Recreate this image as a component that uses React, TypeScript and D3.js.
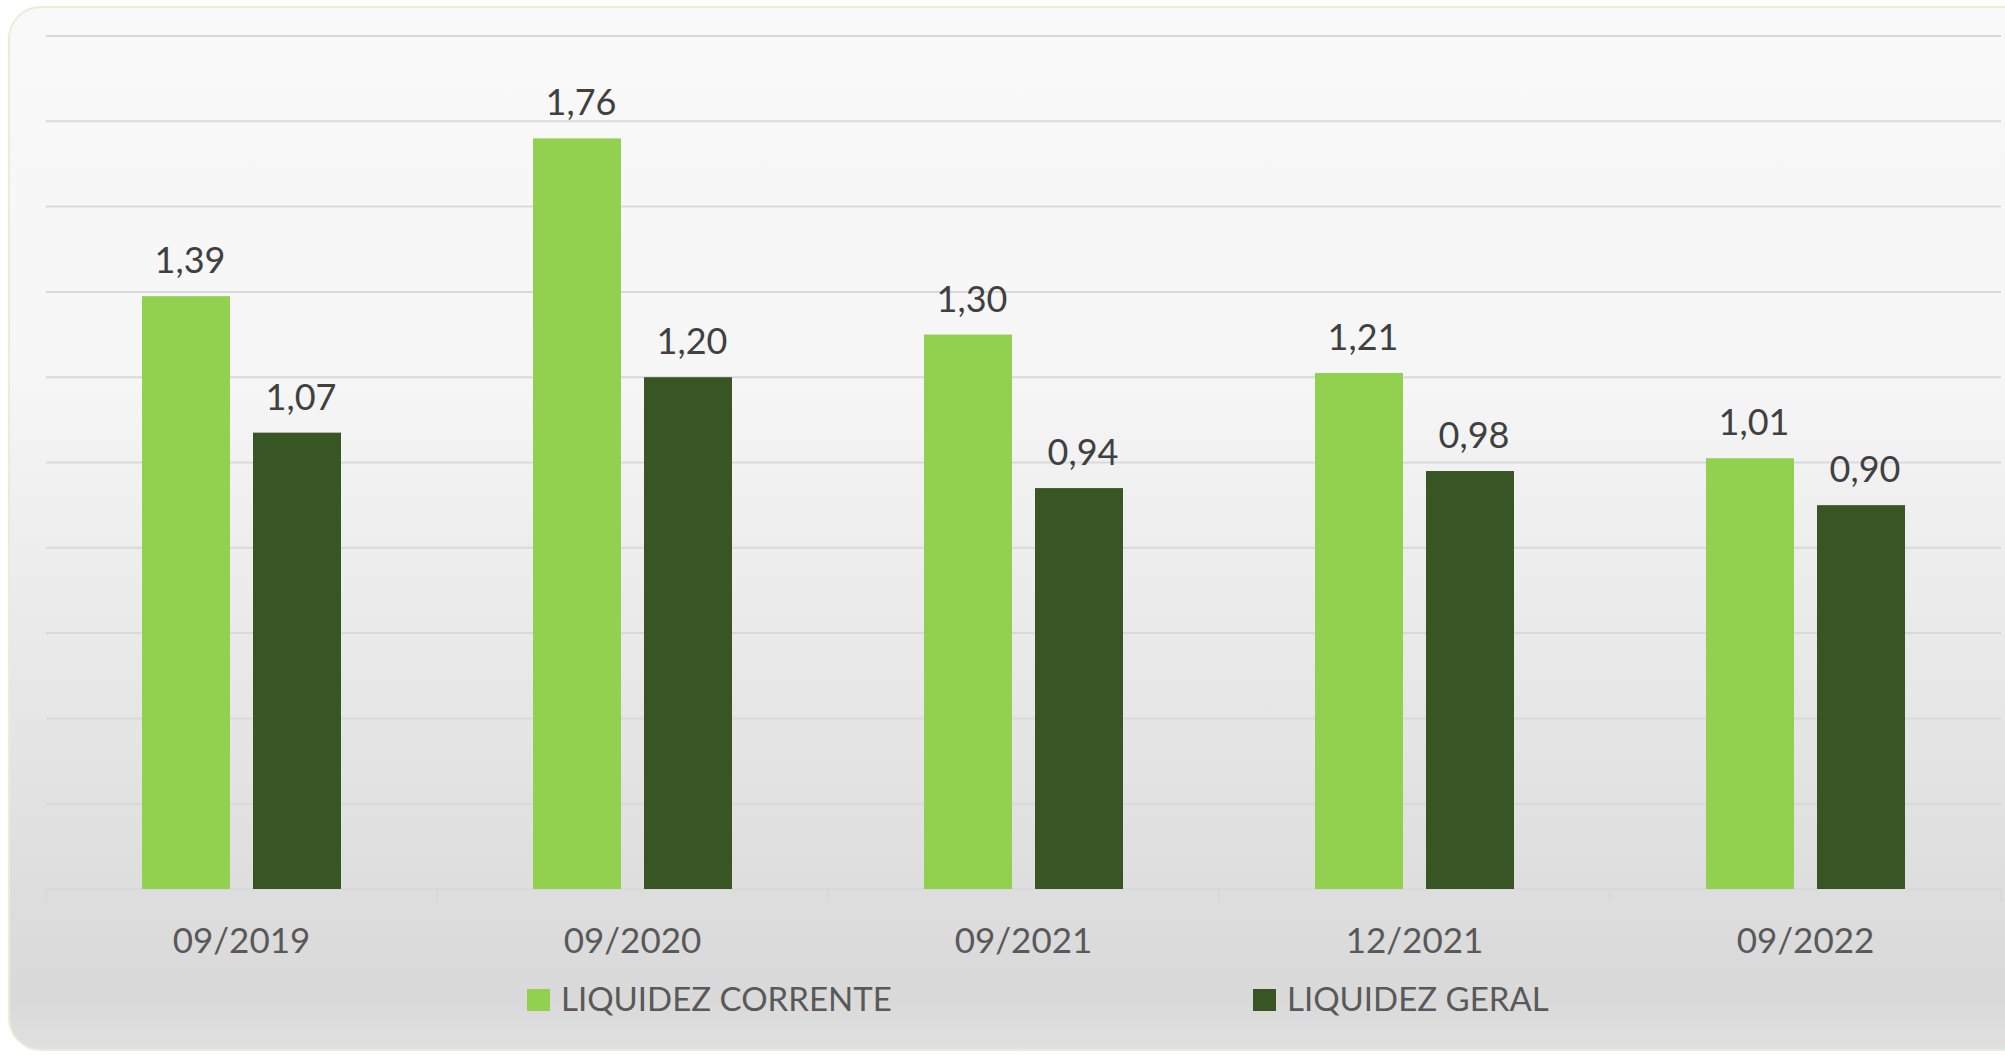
import React from "react"
import * as d3 from "d3"

// Data
const categories = ["09/2019", "09/2020", "09/2021", "12/2021", "09/2022"]
const seriesNames = ["LIQUIDEZ CORRENTE", "LIQUIDEZ GERAL"]
const liquidezCorrente = [1.39, 1.76, 1.3, 1.21, 1.01]
const liquidezGeral = [1.07, 1.2, 0.94, 0.98, 0.9]
const seriesColors = ["#92d050", "#375623"]

const fmt = (v: number) => v.toFixed(2).replace(".", ",")

export default function App() {
  const totalW = 2005
  const totalH = 1055
  const plot = { left: 46, right: 2001, top: 36, bottom: 889 }

  const xScale = d3
    .scaleBand<string>()
    .domain(categories)
    .range([plot.left, plot.right])
  const inner = d3
    .scaleBand<string>()
    .domain(seriesNames)
    .range([96, 295])
    .paddingInner(23 / 111)
  const yScale = d3.scaleLinear().domain([0, 2]).range([plot.bottom, plot.top])
  const gridTicks = yScale.ticks(10)
  const values = [liquidezCorrente, liquidezGeral]

  const font = "Lato, 'Noto Sans', sans-serif"

  return (
    <svg
      width={totalW}
      height={totalH}
      style={{ position: "absolute", left: 0, top: 0 }}
    >
      <defs>
        <linearGradient id="bg" x1="0" y1="0" x2="0" y2="1">
          <stop offset="0" stopColor="#f9f9f9" />
          <stop offset="0.35" stopColor="#f6f6f6" />
          <stop offset="0.86" stopColor="#dddddd" />
          <stop offset="0.95" stopColor="#d9d9d9" />
          <stop offset="1" stopColor="#e0e0e0" />
        </linearGradient>
      </defs>
      <rect x={0} y={0} width={totalW} height={totalH} fill="#ffffff" />
      <rect
        x={9}
        y={7}
        width={2040}
        height={1043}
        rx={32}
        fill="url(#bg)"
        stroke="#e3f0da"
        strokeWidth={2}
      />

      {/* Gridlines */}
      {gridTicks.map((t) => (
        <line
          key={`grid-${t}`}
          x1={plot.left}
          x2={plot.right}
          y1={yScale(t)}
          y2={yScale(t)}
          stroke="#d9d9d9"
          strokeWidth={2}
        />
      ))}

      {/* Category axis ticks */}
      {categories.concat([""]).map((c, i) => {
        const x = plot.left + i * xScale.step()
        return (
          <line
            key={`tick-${i}`}
            x1={x}
            x2={x}
            y1={plot.bottom}
            y2={plot.bottom + 13}
            stroke="#d6d6d6"
            strokeWidth={1.5}
          />
        )
      })}

      {/* Bars */}
      {categories.map((c, i) =>
        seriesNames.map((s, j) => {
          const v = values[j][i]
          const x = (xScale(c) as number) + (inner(s) as number)
          return (
            <rect
              key={`${c}-${s}`}
              x={x}
              y={yScale(v)}
              width={inner.bandwidth()}
              height={plot.bottom - yScale(v)}
              fill={seriesColors[j]}
            />
          )
        })
      )}

      {/* Value labels */}
      {categories.map((c, i) =>
        seriesNames.map((s, j) => {
          const v = values[j][i]
          const x =
            (xScale(c) as number) + (inner(s) as number) + inner.bandwidth() / 2
          return (
            <text
              key={`${c}-${s}-label`}
              x={x}
              dx={4}
              y={yScale(v) - 23}
              textAnchor="middle"
              fontFamily={font}
              fontSize="36px"
              fill="#404040"
            >
              {fmt(v)}
            </text>
          )
        })
      )}

      {/* Category labels */}
      {categories.map((c) => (
        <text
          key={`cat-${c}`}
          x={(xScale(c) as number) + xScale.bandwidth() / 2}
          y={953}
          textAnchor="middle"
          fontFamily={font}
          fontSize="35px"
          fill="#595959"
        >
          {c}
        </text>
      ))}

      {/* Legend */}
      {seriesNames.map((s, j) => {
        const lx = [527, 1253][j]
        return (
          <g key={`legend-${s}`}>
            <rect x={lx} y={989} width={23} height={22} fill={seriesColors[j]} />
            <text
              x={lx + 34}
              y={1011}
              fontFamily={font}
              fontSize="33px"
              fill="#595959"
            >
              {s}
            </text>
          </g>
        )
      })}
    </svg>
  )
}
